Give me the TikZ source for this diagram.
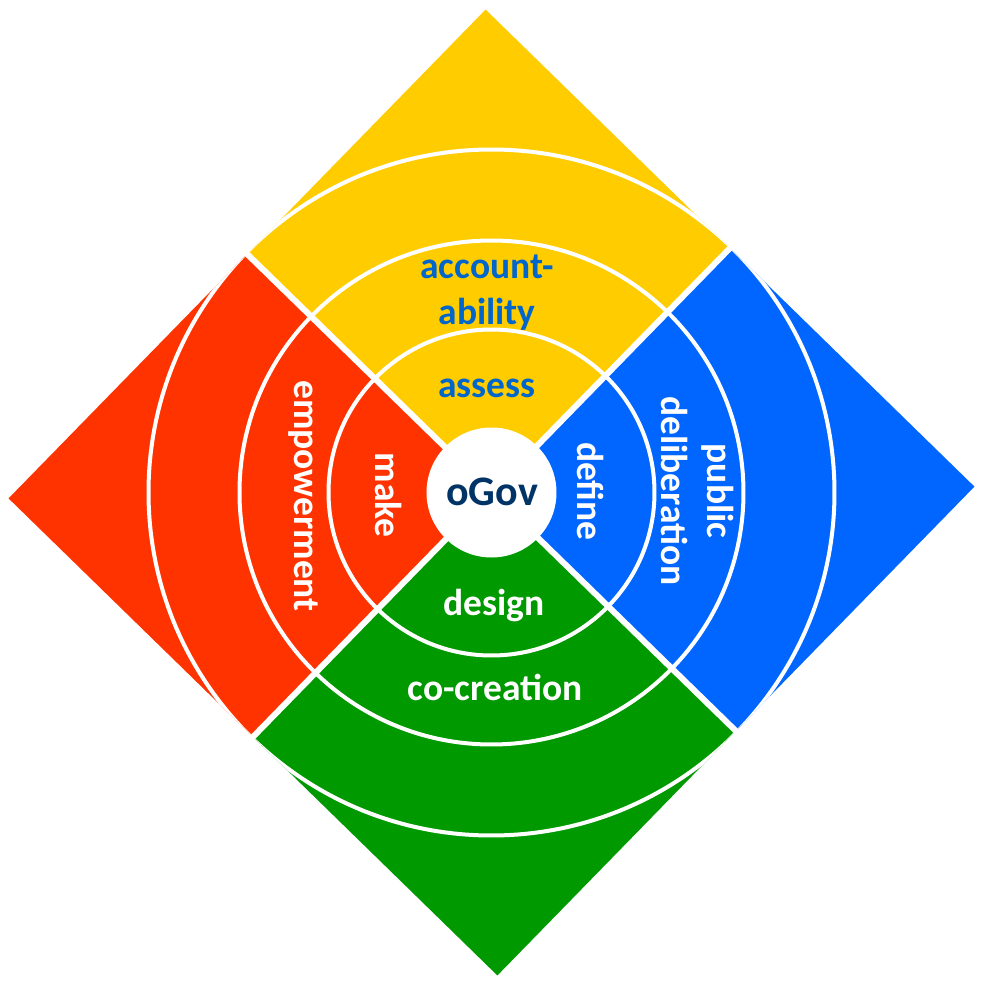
\documentclass[tikz,border=0pt]{standalone}
\usepackage{fontspec}
\setmainfont{Carlito}
\usepackage{xcolor}
\usepackage{tikz}
\definecolor{ogyellow}{RGB}{255, 204, 0}
\definecolor{ogred}{RGB}{255, 51, 0}
\definecolor{ogblue}{RGB}{0, 102, 255}
\definecolor{oggreen}{RGB}{0, 153, 0}
\definecolor{ogtext}{RGB}{0, 102, 204}
\definecolor{ognavy}{RGB}{0, 51, 102}

\begin{document}
\begin{tikzpicture}[x=1pt, y=1pt,
  lbl/.style={font=\bfseries\fontsize{37.5}{46}\selectfont, inner sep=0pt, align=center},
  ring/.style={draw=white, line width=4pt}]

  \useasboundingbox (-491.5,-490.5) rectangle (491.5,492.5);

  % --- Quadrants of the diamond ---
  \begin{scope}[rotate=0.7]
    \fill[ogyellow] (0,0) -- (45:341.5) -- (90:483) -- (135:341.5) -- cycle;
    \fill[ogred] (0,0) -- (135:341.5) -- (180:483) -- (225:341.5) -- cycle;
    \fill[oggreen] (0,0) -- (225:341.5) -- (270:483) -- (315:341.5) -- cycle;
    \fill[ogblue] (0,0) -- (315:341.5) -- (0:483) -- (45:341.5) -- cycle;

    % White gaps between the quadrants
    \draw[white, line width=6pt] (45:360) -- (225:360);
    \draw[white, line width=6pt] (135:360) -- (315:360);

    % Rings, kept inside the diamond
    \clip (0:483) -- (90:483) -- (180:483) -- (270:483) -- cycle;
    \draw[ring] (0,0) circle (163) circle (252) circle (343);
  \end{scope}

  % --- Centre ---
  \fill[white] (0,0) circle (65);
  \node[lbl, anchor=base, color=ognavy, font=\bfseries\fontsize{42}{50}\selectfont] (ogov) at (0.5,-12.5) {oGov};

  % --- Top: yellow ---
  \node[lbl, color=ogtext] (account) at (-4.5,200) {account-\\ability};
  \node[lbl, anchor=base, color=ogtext] (assess) at (-4.5,95.5) {assess};

  % --- Left: red ---
  \node[lbl, anchor=base, white, rotate=-90] (make) at (-115.5,-2.5) {make};
  \node[lbl, anchor=base, white, rotate=-90] (empower) at (-196.5,-3.5) {empowerment};

  % --- Right: blue ---
  \node[lbl, anchor=base, white, rotate=-90] (define) at (86.5,1) {define};
  \node[lbl, white, rotate=-90] (deliberation) at (206.3,1.5) {public\\deliberation};

  % --- Bottom: green ---
  \node[lbl, anchor=base, white] (design) at (2.5,-122.5) {design};
  \node[lbl, anchor=base, white] (cocreation) at (3.5,-207.5) {co-creation};

\end{tikzpicture}
\end{document}
